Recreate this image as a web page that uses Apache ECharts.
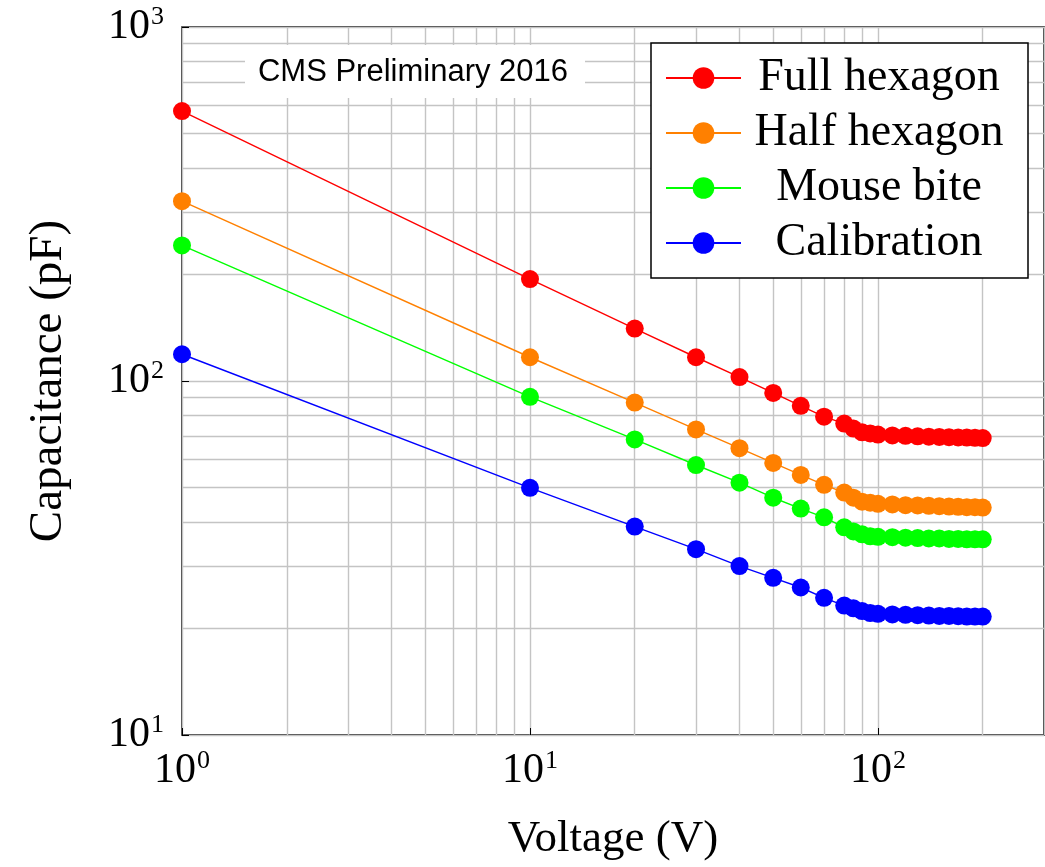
<!DOCTYPE html>
<html>
<head>
<meta charset="utf-8">
<script src="https://cdn.jsdelivr.net/npm/echarts@6/dist/echarts.min.js"></script>
<style>
  html, body { margin: 0; padding: 0; background: #fff; }
  #chart { width: 1045px; height: 867px; }
</style>
</head>
<body>
<div id="chart"></div>
<script>
// Bias voltage (V) of each measurement
const voltages = [1, 10, 20, 30, 40, 50, 60, 70, 80, 85, 90, 95, 100, 110, 120, 130, 140, 150, 160, 170, 180, 190, 200];

// Measured capacitance (pF) per cell type
const fullHexagon = [579, 194, 140.6, 116.7, 102.6, 92.5, 85.1, 79.3, 75.8, 73.4, 71.6, 71.1, 70.6, 70.2, 70.0, 69.8, 69.6, 69.5, 69.4, 69.3, 69.2, 69.1, 69.0];
const halfHexagon = [322, 116.7, 86.9, 73.0, 64.6, 58.7, 54.3, 50.9, 48.4, 46.8, 45.6, 45.3, 45.0, 44.8, 44.6, 44.5, 44.4, 44.3, 44.2, 44.1, 44.0, 44.0, 43.9];
const mouseBite = [241.5, 90.2, 68.4, 57.9, 51.6, 46.8, 43.6, 41.2, 38.6, 37.6, 36.9, 36.4, 36.3, 36.2, 36.1, 36.0, 35.9, 35.9, 35.8, 35.8, 35.7, 35.7, 35.7];
const calibration = [119, 49.9, 38.8, 33.5, 30.0, 27.8, 26.1, 24.4, 23.2, 22.8, 22.4, 22.1, 22.0, 21.9, 21.85, 21.8, 21.75, 21.7, 21.7, 21.65, 21.6, 21.6, 21.6];

const seriesNames = ['Full hexagon', 'Half hexagon', 'Mouse bite', 'Calibration'];
const seriesValues = [fullHexagon, halfHexagon, mouseBite, calibration];
const seriesColors = ['#ff0000', '#ff8000', '#00ff00', '#0000ff'];

// Minor (2..9 per decade) grid positions on the log axes
const xMinorGrid = [2, 3, 4, 5, 6, 7, 8, 9, 20, 30, 40, 50, 60, 70, 80, 90, 200];
const yMinorGrid = [20, 30, 40, 50, 60, 70, 80, 90, 200, 300, 400, 500, 600, 700, 800, 900];

const xRange = [1, 300];
const yRange = [10, 1000];

const SERIF = '"Liberation Serif", "Times New Roman", serif';
const SANS = '"Liberation Sans", Arial, Helvetica, sans-serif';
const GRID_COLOR = '#c4c4c4';

function powerLabel(v) {
  const e = Math.log10(v);
  if (Math.abs(e - Math.round(e)) > 1e-6) return '';
  return '{b|10}{s|' + Math.round(e) + '}';
}
const powerRich = {
  b: { fontFamily: SERIF, fontSize: 42, color: '#000' },
  s: { fontFamily: SERIF, fontSize: 26, color: '#000', padding: [0, 0, 19, 1] }
};

const chart = echarts.init(document.getElementById('chart'), null, { renderer: 'canvas' });

const series = seriesNames.map((name, i) => ({
  name: name,
  type: 'line',
  data: voltages.map((v, j) => [v, seriesValues[i][j]]),
  symbol: 'circle',
  symbolSize: 18,
  showSymbol: true,
  clip: false,
  z: 3,
  color: seriesColors[i],
  itemStyle: { color: seriesColors[i] },
  lineStyle: { color: seriesColors[i], width: 1.4 },
  emphasis: { disabled: true },
  animation: false
}));

// Minor grid lines drawn through the axes' own log scales
series.push({
  name: 'minor-grid',
  type: 'line',
  data: [],
  silent: true,
  z: 1,
  markLine: {
    silent: true,
    z: 1,
    symbol: ['none', 'none'],
    label: { show: false },
    lineStyle: { color: GRID_COLOR, width: 1.4, type: 'solid' },
    emphasis: { disabled: true },
    animation: false,
    data: xMinorGrid.map(v => ({ xAxis: v })).concat(yMinorGrid.map(v => ({ yAxis: v })))
  }
});

chart.setOption({
  animation: false,
  backgroundColor: '#fff',
  grid: {
    left: 182, top: 27, width: 862, height: 716,
    show: true, borderColor: '#000', borderWidth: 1.5, backgroundColor: 'transparent'
  },
  xAxis: {
    type: 'log',
    logBase: 10,
    min: xRange[0],
    max: xRange[1],
    name: 'Voltage (V)',
    nameLocation: 'middle',
    nameGap: 82,
    nameTextStyle: { fontFamily: SERIF, fontSize: 45, color: '#000' },
    axisLine: { show: false },
    axisTick: { show: true, inside: true, length: 7, lineStyle: { color: '#000', width: 1 } },
    axisLabel: { margin: 13, formatter: powerLabel, rich: powerRich, showMaxLabel: false },
    splitLine: { show: true, lineStyle: { color: GRID_COLOR, width: 1.4 } },
    minorTick: { show: false },
    minorSplitLine: { show: false }
  },
  yAxis: {
    type: 'log',
    logBase: 10,
    min: yRange[0],
    max: yRange[1],
    name: 'Capacitance (pF)',
    nameLocation: 'middle',
    nameGap: 110,
    nameRotate: 90,
    nameTextStyle: { fontFamily: SERIF, fontSize: 47, color: '#000' },
    axisLine: { show: false },
    axisTick: { show: true, inside: true, length: 7, lineStyle: { color: '#000', width: 1 } },
    axisLabel: { margin: 18, formatter: powerLabel, rich: powerRich },
    splitLine: { show: true, lineStyle: { color: GRID_COLOR, width: 1.4 } },
    minorTick: { show: false },
    minorSplitLine: { show: false }
  },
  legend: {
    data: seriesNames,
    left: 651,
    top: 43,
    orient: 'vertical',
    selectedMode: false,
    backgroundColor: '#fff',
    borderColor: '#000',
    borderWidth: 1.5,
    borderRadius: 0,
    padding: [12, 16, 12, 14],
    itemWidth: 75,
    itemHeight: 27,
    itemGap: 9,
    formatter: name => '{t|' + name + '}',
    textStyle: {
      rich: {
        t: { fontFamily: SERIF, fontSize: 46, color: '#000', width: 266, align: 'center', lineHeight: 46 }
      }
    }
  },
  graphic: [
    {
      type: 'rect',
      z: 10,
      silent: true,
      shape: { x: 245, y: 45, width: 340, height: 53 },
      style: { fill: '#fff' }
    },
    {
      type: 'text',
      z: 11,
      silent: true,
      x: 413,
      y: 72,
      style: {
        text: 'CMS Preliminary 2016',
        font: '31px ' + SANS,
        fill: '#000',
        align: 'center',
        verticalAlign: 'middle'
      }
    }
  ],
  series: series
});
</script>
</body>
</html>
